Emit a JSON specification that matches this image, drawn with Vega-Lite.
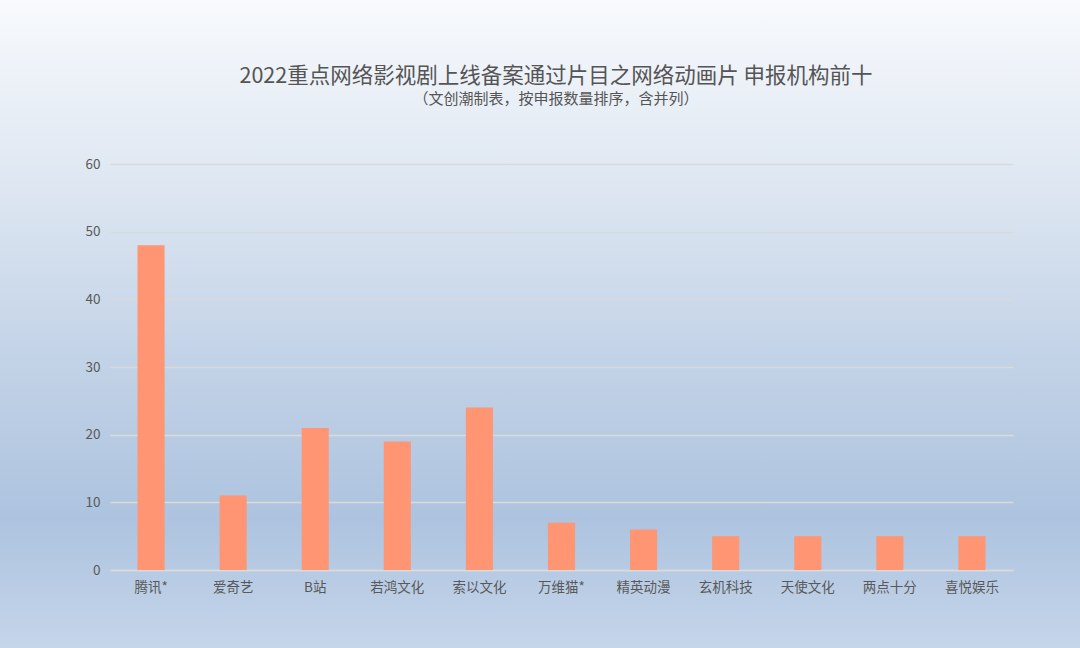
{
  "$schema": "https://vega.github.io/schema/vega-lite/v6.json",
  "width": 1080,
  "height": 648,
  "autosize": {"type": "none"},
  "padding": 0,
  "background": "#c9d7ea",
  "view": {
    "stroke": null,
    "fill": {
      "gradient": "linear",
      "x1": 0, "y1": 0, "x2": 0, "y2": 1,
      "stops": [
        {"offset": 0, "color": "#f8fafd"},
        {"offset": 0.25, "color": "#e1e9f3"},
        {"offset": 0.55, "color": "#c3d3e7"},
        {"offset": 0.8, "color": "#adc3df"},
        {"offset": 1, "color": "#c5d5ea"}
      ]
    }
  },
  "title": {
    "text": "2022重点网络影视剧上线备案通过片目之网络动画片 申报机构前十",
    "subtitle": "（文创潮制表，按申报数量排序，含并列）",
    "anchor": "middle",
    "frame": "group",
    "orient": "top",
    "offset": -107,
    "dx": 16,
    "font": "Noto Sans CJK SC",
    "fontSize": 21.5,
    "fontWeight": "normal",
    "color": "#555555",
    "subtitleFont": "Noto Sans CJK SC",
    "subtitleFontSize": 15,
    "subtitleColor": "#555555",
    "subtitlePadding": 5
  },
  "data": {
    "values": [
      {"org": "腾讯*", "count": 48},
      {"org": "爱奇艺", "count": 11},
      {"org": "B站", "count": 21},
      {"org": "若鸿文化", "count": 19},
      {"org": "索以文化", "count": 24},
      {"org": "万维猫*", "count": 7},
      {"org": "精英动漫", "count": 6},
      {"org": "玄机科技", "count": 5},
      {"org": "天使文化", "count": 5},
      {"org": "两点十分", "count": 5},
      {"org": "喜悦娱乐", "count": 5}
    ]
  },
  "mark": {"type": "bar", "color": "#ff9572"},
  "encoding": {
    "x": {
      "field": "org",
      "type": "nominal",
      "sort": null,
      "scale": {"range": [110, 1013], "paddingInner": 0.67, "paddingOuter": 0.335},
      "axis": {
        "title": null,
        "offset": -78,
        "labelAngle": 0,
        "labelFont": "Noto Sans CJK SC",
        "labelFontSize": 13.5,
        "labelColor": "#595959",
        "labelPadding": 10,
        "ticks": false,
        "domain": true,
        "domainColor": "#dadada",
        "domainWidth": 1.5,
        "grid": false
      }
    },
    "y": {
      "field": "count",
      "type": "quantitative",
      "scale": {"domain": [0, 60], "range": [570, 164], "nice": false},
      "axis": {
        "title": null,
        "offset": -110,
        "values": [0, 10, 20, 30, 40, 50, 60],
        "labelFont": "Noto Sans CJK SC",
        "labelFontSize": 13.5,
        "labelColor": "#595959",
        "labelPadding": 10,
        "ticks": false,
        "domain": false,
        "grid": true,
        "gridColor": "#dadada",
        "gridWidth": 1.5
      }
    }
  }
}
